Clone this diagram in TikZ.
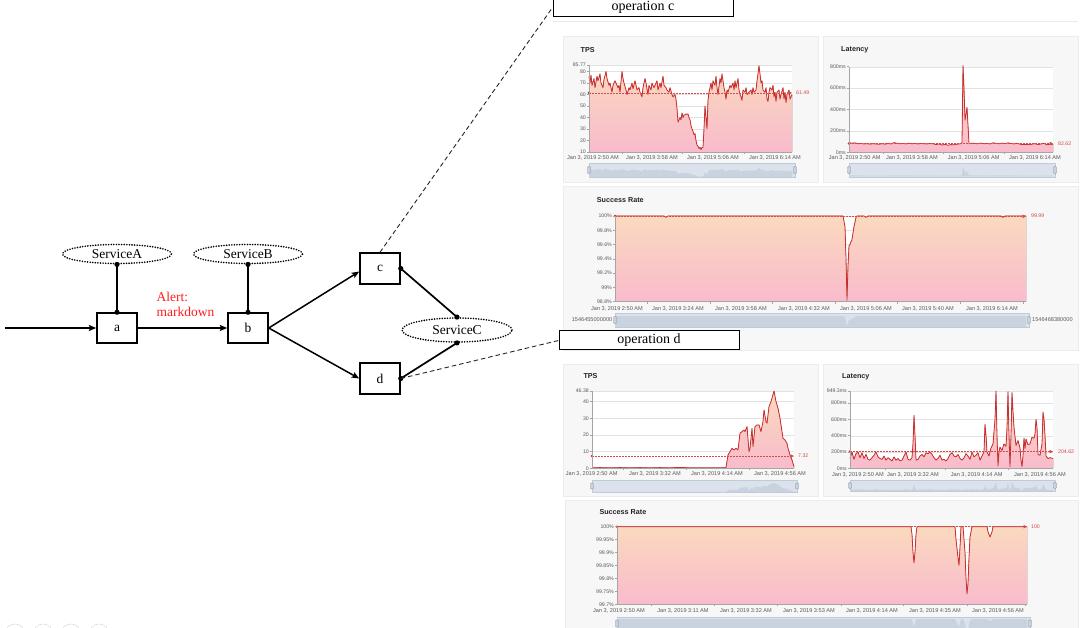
\documentclass[tikz,border=0pt]{standalone}
\usepackage{fontspec}
\setmainfont{Liberation Serif}
\newfontfamily\sansf{Liberation Sans}
\usetikzlibrary{shapes.geometric,arrows.meta}
\definecolor{panelbg}{RGB}{247,247,247}
\definecolor{panelbd}{RGB}{236,236,236}
\definecolor{gridc}{RGB}{226,226,226}
\definecolor{axisc}{RGB}{165,165,165}
\definecolor{labc}{RGB}{90,90,90}
\definecolor{ttlc}{RGB}{35,35,35}
\definecolor{linered}{RGB}{205,45,45}
\definecolor{avgred}{RGB}{215,75,75}
\definecolor{filltop}{RGB}{250,217,190}
\definecolor{fillbot}{RGB}{249,187,204}
\definecolor{sliderbg}{RGB}{219,226,236}
\definecolor{sliderbd}{RGB}{192,203,218}
\definecolor{sliderfg}{RGB}{201,211,224}
\definecolor{handlec}{RGB}{200,210,224}
\definecolor{alertred}{RGB}{255,30,30}
\def\dA{--(589,76)--(590,70)--(591,77)--(592,68)--(594,74)--(595,66)--(597,76)--(598,72)--(600,78)--(601,70)--(603,66)--(604,73)--(606,80)--(607,74)--(609,68)--(610,70)--(612,62)--(613,68)--(615,72)--(616,70)--(618,66)--(619,68)--(620,62)--(622,80)--(623,74)--(624,70)--(626,64)--(627,60)--(629,66)--(630,64)--(632,70)--(633,65)--(635,72)--(636,68)--(637,64)--(639,66)--(640,62)--(642,58)--(643,66)--(645,74)--(646,70)--(648,60)--(649,68)--(651,64)--(652,70)--(654,66)--(655,68)--(657,72)--(658,64)--(660,70)--(661,66)--(663,76)--(664,68)--(666,66)--(667,64)--(669,62)--(670,66)--(672,60)--(673,58)--(675,60)--(676,56)--(677,48)--(678,36)--(679,38)--(680,40)--(681,38)--(682,44)--(683,40)--(684,42)--(686,43)--(688,43)--(689,40)--(690,38)--(691,33)--(692,30)--(693,28)--(694,25)--(695,26)--(696,20)--(697,16)--(698,15)--(699,13)--(700,14)--(701,12)--(702,14)--(703,14)--(704,30)--(705,50)--(706,40)--(707,30)--(708,55)--(709,62)--(711,70)--(712,64)--(713,72)--(715,68)--(716,76)--(717,66)--(718,60)--(720,74)--(721,70)--(722,78)--(723,72)--(724,66)--(725,62)--(726,56)--(727,64)--(728,62)--(730,68)--(731,66)--(733,70)--(734,64)--(735,72)--(736,66)--(738,74)--(739,64)--(740,60)--(741,58)--(742,55)--(743,64)--(745,62)--(746,66)--(747,60)--(749,62)--(751,64)--(752,60)--(753,66)--(754,62)--(756,64)--(757,72)--(758,78)--(759,85)--(760,78)--(761,70)--(762,72)--(763,64)--(765,62)--(766,66)--(767,56)--(768,54)--(769,62)--(770,66)--(772,64)--(773,68)--(774,58)--(775,62)--(776,54)--(777,62)--(779,64)--(780,56)--(781,60)--(783,66)--(784,56)--(785,62)--(786,53)--(787,60)--(789,64)--(790,56)--(792,60)}
\def\dB{--(849,90)--(852,85)--(855,88)--(858,80)--(861,82)--(864,78)--(867,80)--(870,76)--(873,80)--(876,78)--(879,75)--(882,80)--(885,76)--(888,82)--(891,78)--(894,90)--(897,84)--(900,80)--(903,82)--(906,78)--(909,85)--(912,80)--(915,82)--(918,78)--(921,82)--(924,80)--(927,78)--(930,82)--(933,80)--(936,72)--(939,78)--(942,68)--(945,74)--(948,66)--(951,72)--(954,70)--(957,76)--(960,78)--(962,90)--(963,810)--(964,600)--(965,300)--(966,360)--(967,420)--(968,250)--(969,80)--(972,86)--(975,82)--(978,80)--(981,86)--(984,80)--(987,82)--(990,78)--(993,88)--(996,84)--(999,80)--(1002,86)--(1005,80)--(1008,88)--(1011,82)--(1014,78)--(1017,84)--(1020,76)--(1023,72)--(1026,74)--(1029,70)--(1032,76)--(1035,80)--(1038,72)--(1041,78)--(1044,84)--(1047,70)--(1050,76)--(1053,74)}
\def\dC{--(615,1.2)--(664,1.2)--(666,1.18)--(668,1.2)--(843,1.2)--(845,1.05)--(846,0.6)--(847,0.02)--(848,0.5)--(849,0.78)--(850,0.8)--(851,0.84)--(852,0.87)--(854,1.05)--(856,1.18)--(857,1.2)--(864,1.2)--(866,1.18)--(868,1.2)--(1001,1.2)--(1003,1.18)--(1005,1.2)--(1026,1.2)}
\def\dD{--(592,0.3)--(600,0.4)--(610,0.3)--(620,0.4)--(630,0.3)--(640,0.4)--(650,0.3)--(660,0.4)--(670,0.3)--(680,0.5)--(690,0.3)--(700,0.3)--(710,0.3)--(720,0.3)--(726,0.4)--(728,8)--(730,10)--(732,12)--(734,11)--(736,12)--(738,11)--(740,21)--(742,22)--(744,23)--(745,22)--(747,25)--(749,10)--(750,12)--(752,24)--(753,13)--(755,25)--(757,26)--(759,26)--(761,22)--(763,28)--(764,35)--(766,28)--(767,27)--(769,37)--(771,40)--(774,46.38)--(776,40)--(778,36)--(780,30)--(782,22)--(783,18)--(785,17)--(787,15)--(788,12)--(790,8)--(792,5)--(794,1)}
\def\dE{--(850,120)--(852,200)--(854,110)--(856,180)--(858,200)--(860,130)--(862,190)--(864,120)--(866,170)--(868,110)--(870,100)--(872,130)--(874,160)--(876,200)--(878,140)--(880,120)--(882,110)--(884,150)--(886,100)--(888,130)--(890,110)--(892,90)--(894,140)--(896,100)--(898,120)--(900,90)--(902,100)--(904,150)--(906,200)--(908,110)--(910,100)--(912,130)--(913,300)--(914,650)--(915,400)--(916,100)--(918,110)--(920,150)--(922,170)--(924,140)--(926,190)--(928,180)--(930,200)--(932,170)--(934,130)--(936,100)--(938,120)--(940,160)--(942,100)--(944,110)--(946,90)--(948,120)--(950,170)--(952,190)--(954,150)--(956,140)--(958,170)--(960,120)--(962,100)--(964,130)--(966,180)--(968,150)--(970,110)--(972,200)--(974,140)--(976,160)--(978,190)--(980,100)--(982,150)--(984,200)--(985,540)--(986,400)--(987,200)--(989,150)--(991,250)--(993,300)--(995,600)--(996,949)--(997,400)--(998,30)--(999,200)--(1000,260)--(1002,220)--(1004,300)--(1006,270)--(1007,500)--(1008,940)--(1009,400)--(1010,20)--(1011,400)--(1012,930)--(1013,700)--(1014,500)--(1016,280)--(1018,340)--(1020,250)--(1021,100)--(1022,20)--(1023,150)--(1024,370)--(1025,240)--(1026,360)--(1028,290)--(1030,300)--(1032,380)--(1034,370)--(1035,420)--(1036,600)--(1037,500)--(1038,170)--(1040,160)--(1042,300)--(1043,690)--(1044,600)--(1045,400)--(1046,150)--(1048,120)--(1050,130)--(1053,120)}
\def\dF{--(617,30)--(911,30)--(912,27)--(913,20)--(914,16)--(915,20)--(916,27)--(917,30)--(955,30)--(956,25)--(958,18)--(959,15)--(960,22)--(961,30)--(963,30)--(965,20)--(966,10)--(967,4)--(968,8)--(969,18)--(970,26)--(972,30)--(987,30)--(988,28)--(990,26)--(992,28)--(993,30)--(1027,30)}
\begin{document}
\begin{tikzpicture}[x=1pt,y=-1pt,
  box/.style={draw, line width=1.5pt, minimum width=40pt, minimum height=30pt, inner sep=0pt, font=\fontsize{13.5}{15}\selectfont},
  svc/.style={ellipse, draw, line width=1.8pt, dash pattern=on 0pt off 2.6pt, line cap=round, minimum width=109pt, minimum height=19pt, inner sep=0pt, font=\fontsize{13.5}{15}\selectfont},
  opbox/.style={draw, fill=white, line width=1pt, minimum width=180pt, minimum height=19pt, inner sep=0pt, font=\fontsize{14}{16}\selectfont},
  alert/.style={text=alertred, align=left, anchor=west, inner sep=0pt, font=\fontsize{13.5}{15}\selectfont},
  flow/.style={line width=1.5pt, -{Stealth[length=7.5pt,width=6pt,inset=1.5pt]}},
  svclink/.style={line width=1.7pt},
  enddot/.style={fill=black},
  dashl/.style={line width=0.9pt, dash pattern=on 4.5pt off 3pt, black!85},
  panel/.style={fill=panelbg, draw=panelbd, line width=0.4pt},
  gridl/.style={draw=gridc, line width=0.4pt},
  axisl/.style={draw=axisc, line width=0.5pt},
  dline/.style={draw=linered, line width=0.8pt, line join=round},
  areaf/.style={top color=filltop, bottom color=fillbot, draw=none},
  avgl/.style={draw=avgred, line width=0.5pt, dash pattern=on 1.5pt off 1.5pt},
  avgtip/.style={-{Triangle[length=3.5pt,width=3.5pt]}},
  ylab/.style={font=\sansf\fontsize{5.2}{6}\selectfont, text=labc, anchor=east, inner sep=0.5pt},
  xlab/.style={font=\sansf\fontsize{5.6}{6.5}\selectfont, text=labc, inner sep=0pt},
  ttl/.style={font=\sansf\bfseries\fontsize{7.2}{8}\selectfont, text=ttlc, anchor=west, inner sep=0pt},
  avglab/.style={font=\sansf\fontsize{5.2}{6}\selectfont, text=avgred, anchor=west, inner sep=0pt},
  slider/.style={fill=sliderbg, draw=sliderbd, line width=0.4pt},
  sil/.style={fill=sliderfg, draw=none},
  handle/.style={fill=handlec, draw=sliderbd!70!black, line width=0.3pt, rounded corners=0.8pt}
]
\useasboundingbox (0,0) rectangle (1080,628);
\clip (0,0) rectangle (1080,628);
\fill[white] (0,0) rectangle (1080,628);

% faint decorations
\draw[black!8, line width=0.6pt] (553,21) -- (1078,21);
\foreach \cx in {15,43,71,99} \draw[black!13, line width=0.6pt] (\cx,634) circle[radius=10];

% ===== panels =====
\path[panel] (563,36) rectangle (818,182);
\path[panel] (823,36) rectangle (1078,182);
\path[panel] (563,186) rectangle (1078,350);
\path[panel] (563,364) rectangle (818,496);
\path[panel] (823,364) rectangle (1078,496);
\path[panel] (565,500) rectangle (1078,640);

% ===== chart 1: TPS (c) =====
\node[ttl] (t1) at (580.5,50) {TPS};
\begin{scope}[shift={(0,163.48)}, y=1.1482pt]
  \fill[white] (589,10) rectangle (792,85.77);
  \foreach \v in {20,30,40,50,60,70,80,85.77} \draw[gridl] (589,\v) -- (792,\v);
  \fill[areaf] (589,10) \dA -- (792,10) -- cycle;
  \draw[dline] (589,76) \dA;
  \draw[avgl, avgtip] (589,61.49) -- (792,61.49);
  \fill[linered] (589,61.49) circle[radius=1.4pt];
  \node[avglab] (v1) at (796,61.49) {61.49};
  \draw[axisl] (589,10) -- (589,85.77);
  \draw[axisl] (589,10) -- (792,10);
  \foreach \v [count=\i] in {10,20,30,40,50,60,70,80,85.77} {
    \draw[axisl] (587,\v) -- (589,\v);
    \node[ylab] (ya\i) at (586.5,\v) {\v};}
\end{scope}
\foreach \x in {622.5,682.5,744} \draw[axisl] (\x,152) -- (\x,154);
\foreach \x/\t [count=\i] in {593/2:50 AM,652/3:58 AM,713/5:06 AM,775/6:14 AM}
  \node[xlab] (xa\i) at (\x,158.3) {Jan 3, 2019 \t};
\path[slider] (589,163) rectangle (795,177);
\begin{scope}[shift={(0,178.2)}, y=0.12pt]
  \fill[sil] (589,10) \dA -- (792,10) -- cycle;
\end{scope}
\path[handle] (587.5,166.5) rectangle (590.5,173.5);
\path[handle] (793.5,166.5) rectangle (796.5,173.5);

% ===== chart 2: Latency (c) =====
\node[ttl] (t2) at (841,50) {Latency};
\begin{scope}[shift={(0,152.3)}, y=0.107pt]
  \fill[white] (849,0) rectangle (1053,800);
  \foreach \v in {200,400,600,800} \draw[gridl] (849,\v) -- (1053,\v);
  \fill[areaf] (849,0) \dB -- (1053,0) -- cycle;
  \draw[dline] (849,90) \dB;
  \draw[avgl, avgtip] (849,82.62) -- (1053,82.62);
  \fill[linered] (849,82.62) circle[radius=1.4pt];
  \node[avglab] (v2) at (1058,82.62) {82.62};
  \draw[axisl] (849,0) -- (849,800);
  \draw[axisl] (849,0) -- (1053,0);
  \foreach \v [count=\i] in {0,200,400,600,800} {
    \draw[axisl] (847,\v) -- (849,\v);
    \node[ylab] (yb\i) at (846.5,\v) {\v ms};}
\end{scope}
\foreach \x in {883,943,1004} \draw[axisl] (\x,152.3) -- (\x,154.3);
\foreach \x/\t [count=\i] in {854.7/2:50 AM,912/3:58 AM,973.7/5:06 AM,1035/6:14 AM}
  \node[xlab] (xb\i) at (\x,157.8) {Jan 3, 2019 \t};
\path[slider] (849,163) rectangle (1055,177);
\begin{scope}[shift={(0,176.5)}, y=0.0123pt]
  \fill[sil] (849,0) \dB -- (1053,0) -- cycle;
\end{scope}
\path[handle] (847.5,166.5) rectangle (850.5,173.5);
\path[handle] (1053.5,166.5) rectangle (1056.5,173.5);

% ===== chart 3: Success Rate (c) =====
\node[ttl] (t3) at (596.7,200) {Success Rate};
\begin{scope}[shift={(0,301.7)}, y=71.42pt]
  \fill[white] (615,0) rectangle (1026,1.2);
  \foreach \v in {0.2,0.4,0.6,0.8,1.0,1.2} \draw[gridl] (615,\v) -- (1026,\v);
  \fill[areaf] (615,0) \dC -- (1026,0) -- cycle;
  \draw[dline] (615,1.2) \dC;
  \draw[avgl, avgtip] (615,1.195) -- (1026,1.195);
  \fill[linered] (615,1.2) circle[radius=1.4pt];
  \node[avglab] (v3) at (1031,1.2) {99.99};
  \draw[axisl] (615,0) -- (615,1.2);
  \draw[axisl] (615,0) -- (1026,0);
  \foreach \v/\t [count=\i] in {0/98.8\%,0.2/99\%,0.4/99.2\%,0.6/99.4\%,0.8/99.6\%,1.0/99.8\%,1.2/100\%} {
    \draw[axisl] (613,\v) -- (615,\v);
    \node[ylab] (yc\i) at (612.5,\v) {\t};}
\end{scope}
\foreach \x in {647,710,772.5,835,897,960,1023} \draw[axisl] (\x,301.7) -- (\x,303.7);
\foreach \x/\t [count=\i] in {617/2:50 AM,678/3:24 AM,741/3:58 AM,804/4:32 AM,866/5:06 AM,928/5:40 AM,992/6:14 AM}
  \node[xlab] (xc\i) at (\x,309) {Jan 3, 2019 \t};
\path[slider] (615,313) rectangle (1029,327);
\begin{scope}[shift={(0,327)}, y=9pt]
  \fill[sil] (615,0) \dC -- (1026,0) -- cycle;
\end{scope}
\path[handle] (613.5,316.5) rectangle (616.5,323.5);
\path[handle] (1027.5,316.5) rectangle (1030.5,323.5);
\node[xlab, anchor=east] (s1) at (612.5,320) {1546455000000};
\node[xlab, anchor=west] (s2) at (1032,320) {1546468380000};

% ===== chart 4: TPS (d) =====
\node[ttl] (t4) at (583.3,376.5) {TPS};
\begin{scope}[shift={(0,468.3)}, y=1.6667pt]
  \fill[white] (592,0) rectangle (794,46.38);
  \foreach \v in {10,20,30,40,46.38} \draw[gridl] (592,\v) -- (794,\v);
  \fill[areaf] (592,0) \dD -- (794,0) -- cycle;
  \draw[dline] (592,0.3) \dD;
  \draw[avgl, avgtip] (592,7.32) -- (794,7.32);
  \fill[linered] (592,7.32) circle[radius=1.4pt];
  \node[avglab] (v4) at (798,7.32) {7.32};
  \draw[axisl] (592,0) -- (592,46.38);
  \draw[axisl] (592,0) -- (794,0);
  \foreach \v [count=\i] in {0,10,20,30,40,46.38} {
    \draw[axisl] (590,\v) -- (592,\v);
    \node[ylab] (yd\i) at (589.5,\v) {\v};}
\end{scope}
\foreach \x in {623,686,749} \draw[axisl] (\x,468.3) -- (\x,470.3);
\foreach \x/\t [count=\i] in {591.7/2:50 AM,655/3:32 AM,717/4:14 AM,780/4:56 AM}
  \node[xlab] (xd\i) at (\x,474.4) {Jan 3, 2019 \t};
\path[slider] (592,480) rectangle (797,492);
\begin{scope}[shift={(0,492)}, y=0.2pt]
  \fill[sil] (592,0) \dD -- (794,0) -- cycle;
\end{scope}
\path[handle] (590.5,483) rectangle (593.5,489);
\path[handle] (795.5,483) rectangle (798.5,489);

% ===== chart 5: Latency (d) =====
\node[ttl] (t5) at (842,376.5) {Latency};
\begin{scope}[shift={(0,468.3)}, y=0.08143pt]
  \fill[white] (850,0) rectangle (1053,949.3);
  \foreach \v in {200,400,600,800,949.3} \draw[gridl] (850,\v) -- (1053,\v);
  \fill[areaf] (850,0) \dE -- (1053,0) -- cycle;
  \draw[dline] (850,120) \dE;
  \draw[avgl, avgtip] (850,204.62) -- (1053,204.62);
  \fill[linered] (850,204.62) circle[radius=1.4pt];
  \node[avglab] (v5) at (1058,204.62) {204.62};
  \draw[axisl] (850,0) -- (850,949.3);
  \draw[axisl] (850,0) -- (1053,0);
  \foreach \v [count=\i] in {0,200,400,600,800,949.3} {
    \draw[axisl] (848,\v) -- (850,\v);
    \node[ylab] (ye\i) at (847.5,\v) {\v ms};}
\end{scope}
\foreach \x in {885,945,1008} \draw[axisl] (\x,468.3) -- (\x,470.3);
\foreach \x/\t [count=\i] in {858/2:50 AM,913/3:32 AM,976.7/4:14 AM,1040/4:56 AM}
  \node[xlab] (xe\i) at (\x,475) {Jan 3, 2019 \t};
\path[slider] (850,480) rectangle (1055,491);
\begin{scope}[shift={(0,491)}, y=0.0095pt]
  \fill[sil] (850,0) \dE -- (1053,0) -- cycle;
\end{scope}
\path[handle] (848.5,482.5) rectangle (851.5,488.5);
\path[handle] (1053.5,482.5) rectangle (1056.5,488.5);

% ===== chart 6: Success Rate (d) =====
\node[ttl] (t6) at (599.3,512.3) {Success Rate};
\begin{scope}[shift={(0,604.3)}, y=2.5867pt]
  \fill[white] (617,0) rectangle (1027,30);
  \foreach \v in {5,10,15,20,25,30} \draw[gridl] (617,\v) -- (1027,\v);
  \fill[areaf] (617,0) \dF -- (1027,0) -- cycle;
  \draw[dline] (617,30) \dF;
  \draw[avgl, avgtip] (617,30) -- (1027,30);
  \fill[linered] (617,30) circle[radius=1.4pt];
  \node[avglab] (v6) at (1031,30) {100};
  \draw[axisl] (617,0) -- (617,30);
  \draw[axisl] (617,0) -- (1027,0);
  \foreach \v/\t [count=\i] in {0/99.7\%,5/99.75\%,10/99.8\%,15/99.85\%,20/99.9\%,25/99.95\%,30/100\%} {
    \draw[axisl] (615,\v) -- (617,\v);
    \node[ylab] (yf\i) at (614.5,\v) {\t};}
\end{scope}
\foreach \x in {651,714,777,841,903,967,1025} \draw[axisl] (\x,604.3) -- (\x,606.3);
\foreach \x/\t [count=\i] in {619/2:50 AM,683/3:11 AM,746/3:32 AM,809/3:53 AM,872/4:14 AM,935/4:35 AM,998/4:56 AM}
  \node[xlab] (xf\i) at (\x,610.7) {Jan 3, 2019 \t};
\path[slider] (617,617) rectangle (1030,634);
\begin{scope}[shift={(0,634)}, y=0.5pt]
  \fill[sil] (617,0) \dF -- (1027,0) -- cycle;
\end{scope}
\path[handle] (615.5,620) rectangle (618.5,627);
\path[handle] (1028.5,620) rectangle (1031.5,627);

% ===== left diagram =====
\node[box] (a) at (117,328) {a};
\node[box] (b) at (248,328) {b};
\node[box, minimum height=31pt] (c) at (380,268.5) {c};
\node[box, minimum height=31pt] (d) at (380,378.5) {d};
\node[svc] (sA) at (117,254) {ServiceA};
\node[svc] (sB) at (248,254) {ServiceB};
\node[svc, minimum width=110pt, minimum height=24pt] (sC) at (457,330) {ServiceC};
\coordinate (in) at (5,328);
\node[alert] (al) at (156.5,304.5) {Alert:\\markdown};
\node[opbox] (opc) at (643,7.5) {operation c};
\node[opbox] (opd) at (649,340.5) {operation d};

\draw[flow] (in) -- (a.west);
\draw[flow] (a.east) -- (b.west);
\draw[flow] (b.east) -- ([yshift=-3pt]c.west);
\draw[flow] (b.east) -- (d.west);
\draw[svclink] (a.north) -- (sA.south);
\draw[svclink] (b.north) -- (sB.south);
\draw[svclink] (c.east) -- (sC.north);
\draw[svclink] (d.east) -- (sC.south);
\foreach \p in {a.north,sA.south,b.north,sB.south,c.east,sC.north,d.east,sC.south}
  \fill[enddot] (\p) circle[radius=2.6pt];
\draw[dashl] (c.north) -- (opc.west);
\draw[dashl] (d.east) -- (opd.west);
\end{tikzpicture}
\end{document}
